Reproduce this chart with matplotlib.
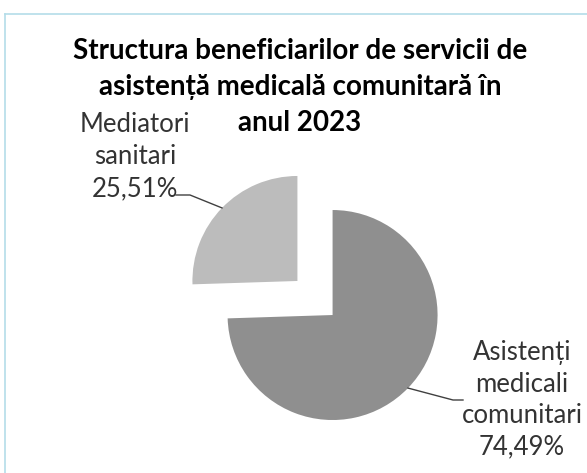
import numpy as np
import matplotlib
matplotlib.use("Agg")
import matplotlib.pyplot as plt
from matplotlib.lines import Line2D

# data
labels = ["Asistenți\nmedicali\ncomunitari", "Mediatori\nsanitari"]
shares = [74.49, 25.51]
colors = ["#8f8f8f", "#bcbcbc"]
title_lines = ["Structura beneficiarilor de servicii de",
               "asistență medicală comunitară în",
               "anul 2023"]

W, H = 587, 473
fig = plt.figure(figsize=(W / 100, H / 100), dpi=100)
fig.patch.set_facecolor("white")

# light blue frame (left + top visible)
fig.add_artist(Line2D([5 / W, 5 / W], [0, 1 - 14 / H], color="#b4dde9", lw=1.2))
fig.add_artist(Line2D([5 / W, 1], [1 - 14 / H, 1 - 14 / H], color="#b4dde9", lw=1.2))

# pie axes: radius 1 -> 105 px, center at (315, 298) px
r_px = 105
lim = 1.43
cx, cy = 315, 298
side = 2 * lim * r_px
ax = fig.add_axes([(cx - side / 2) / W, (H - cy - side / 2) / H, side / W, side / H])

wedges, _ = ax.pie(shares, colors=colors, startangle=90, counterclock=False,
                   explode=[0.233, 0.233], radius=1.0, center=(0, 0),
                   wedgeprops=dict(linewidth=0), frame=True)
ax.set_xlim(-lim, lim)
ax.set_ylim(-lim, lim)
ax.set_aspect("equal")
ax.axis("off")

fam = ["Lato", "DejaVu Sans"]
# title, one text per line
for i, line in enumerate(title_lines):
    fig.text(300 / W, 1 - (59 + 36 * i) / H, line, ha="center", va="baseline", fontsize=20,
             fontweight="bold", family=fam, color="black")


def px2data(x, y):
    return ax.transData.inverted().transform(fig.transFigure.transform((x / W, 1 - y / H)))


def anchor(w):
    t = np.deg2rad((w.theta1 + w.theta2) / 2)
    c = w.center
    return c[0] + w.r * np.cos(t), c[1] + w.r * np.sin(t)


# Mediatori label + leader
a = anchor(wedges[1])
e = px2data(190, 195)
s = px2data(176, 195)
ax.plot([a[0], e[0], s[0]], [a[1], e[1], s[1]], color="#404040", lw=1, clip_on=False)
fig.text(135 / W, 1 - 157 / H, labels[1] + "\n" + f"{shares[1]:.2f}%".replace(".", ","),
         ha="center", va="center", fontsize=18.5, family=fam, color="#333333", linespacing=1.35)

# Asistenti label + leader
a = anchor(wedges[0])
e = px2data(453, 400)
s = px2data(463, 400)
ax.plot([a[0], e[0], s[0]], [a[1], e[1], s[1]], color="#404040", lw=1, clip_on=False)
fig.text(522 / W, 1 - 400 / H, labels[0] + "\n" + f"{shares[0]:.2f}%".replace(".", ","),
         ha="center", va="center", fontsize=18.5, family=fam, color="#333333", linespacing=1.32)

fig.savefig("out.png", dpi=100)
